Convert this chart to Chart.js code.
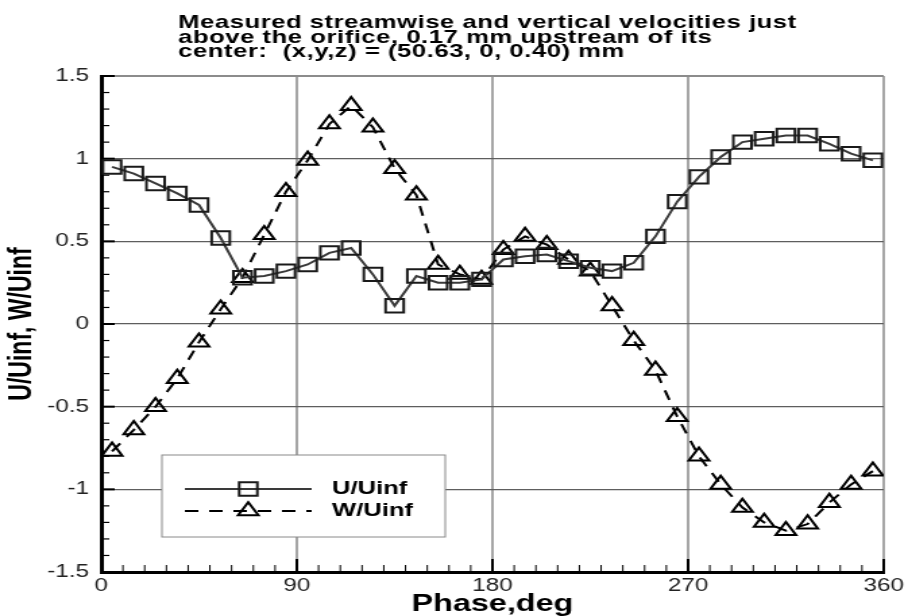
<!DOCTYPE html>
<html>
<head>
<meta charset="utf-8">
<script src="https://cdn.jsdelivr.net/npm/chart.js@4.4.1/dist/chart.umd.min.js"></script>
<style>
  html, body { margin: 0; padding: 0; background: #fff; overflow: hidden; }
  /* the source picture is stretched sideways, so the chart is drawn narrow and widened */
  #wrap { width: 673px; height: 616px; transform: scaleX(1.3492); transform-origin: 0 0; }
</style>
</head>
<body>
<div id="wrap"><canvas id="chart" width="673" height="616"></canvas></div>
<script>
const titleLines = [
  'Measured streamwise and vertical velocities just',
  'above the orifice, 0.17 mm upstream of its',
  'center:  (x,y,z) = (50.63, 0, 0.40) mm'
];

// phase angle of each sample, deg
const phaseDeg = [5, 15, 25, 35, 45, 55, 65, 75, 85, 95, 105, 115, 125, 135, 145, 155, 165, 175,
  185, 195, 205, 215, 225, 235, 245, 255, 265, 275, 285, 295, 305, 315, 325, 335, 345, 355];

const uOverUinf = [0.95, 0.91, 0.85, 0.79, 0.72, 0.52, 0.28, 0.29, 0.32, 0.36, 0.43, 0.46, 0.30, 0.11,
  0.29, 0.25, 0.25, 0.27, 0.39, 0.41, 0.42, 0.38, 0.34, 0.32, 0.37, 0.53, 0.74, 0.89, 1.01, 1.10,
  1.12, 1.14, 1.14, 1.09, 1.03, 0.99];

const wOverUinf = [-0.77, -0.64, -0.50, -0.33, -0.11, 0.09, 0.28, 0.54, 0.80, 0.99, 1.21, 1.32, 1.19, 0.94,
  0.78, 0.36, 0.30, 0.27, 0.45, 0.53, 0.48, 0.39, 0.32, 0.11, -0.10, -0.28, -0.56, -0.80, -0.97, -1.11,
  -1.20, -1.25, -1.21, -1.08, -0.97, -0.89];

const xTickValues = [0, 90, 180, 270, 360];
const xTickLabels = ['0', '90', '180', '270', '360'];
const yTickValues = [-1.5, -1, -0.5, 0, 0.5, 1, 1.5];
const yTickLabels = ['-1.5', '-1', '-0.5', '0', '0.5', '1', '1.5'];

const fam = "'Liberation Sans', Arial, Helvetica, sans-serif";
Chart.defaults.font.family = fam;

function pairs(xs, ys) {
  return xs.map((x, i) => ({ x: x, y: ys[i] }));
}

// hollow marker, same shapes as chart.js rect / triangle
function marker(ctx, style, r, x, y) {
  ctx.beginPath();
  if (style === 'rect') {
    const s = r * Math.SQRT1_2;
    ctx.rect(x - s, y - s, 2 * s, 2 * s);
  } else {
    ctx.moveTo(x, y - r);
    ctx.lineTo(x + r * Math.sin(Math.PI * 2 / 3), y + r / 2);
    ctx.lineTo(x - r * Math.sin(Math.PI * 2 / 3), y + r / 2);
    ctx.closePath();
  }
  ctx.stroke();
}

const background = {
  id: 'background',
  beforeDraw(chart) {
    const ctx = chart.ctx;
    ctx.save();
    ctx.fillStyle = '#fff';
    ctx.fillRect(0, 0, chart.width, chart.height);
    ctx.restore();
  }
};

const plotTitle = {
  id: 'plotTitle',
  afterDraw(chart) {
    const ctx = chart.ctx;
    ctx.save();
    ctx.font = 'bold 19px ' + fam;
    ctx.letterSpacing = '0.4px';
    ctx.fillStyle = '#000';
    ctx.textBaseline = 'alphabetic';
    titleLines.forEach((t, i) => ctx.fillText(t, 132, 28 + i * 14.5));
    ctx.restore();
  }
};

// ticks point into the plot, with minor ticks
const innerTicks = {
  id: 'innerTicks',
  beforeDatasetsDraw(chart) {
    const ctx = chart.ctx;
    const a = chart.chartArea;
    const xs = chart.scales.x, ys = chart.scales.y;
    ctx.save();
    ctx.strokeStyle = '#000';
    for (let v = 0; v <= 360; v += 10) {
      const px = xs.getPixelForValue(v);
      const major = v % 90 === 0;
      ctx.lineWidth = major ? 2 : 1;
      ctx.beginPath();
      ctx.moveTo(px, a.bottom);
      ctx.lineTo(px, a.bottom - (major ? 13 : 7));
      ctx.stroke();
    }
    for (let k = -15; k <= 15; k++) {
      const py = ys.getPixelForValue(k / 10);
      const major = k % 5 === 0;
      ctx.lineWidth = major ? 2 : 1.2;
      ctx.beginPath();
      ctx.moveTo(a.left, py);
      ctx.lineTo(a.left + (major ? 10 : 6), py);
      ctx.stroke();
    }
    ctx.restore();
  }
};

const boxLegend = {
  id: 'boxLegend',
  afterDraw(chart) {
    const ctx = chart.ctx;
    const a = chart.chartArea;
    const bx = a.left + 45, by = a.bottom - 117, bw = 210, bh = 82;
    ctx.save();
    ctx.fillStyle = '#fff';
    ctx.fillRect(bx, by, bw, bh);
    ctx.strokeStyle = '#8a8a8a';
    ctx.lineWidth = 1;
    ctx.strokeRect(bx, by, bw, bh);
    chart.data.datasets.forEach((ds, i) => {
      const y = by + 34 + i * 22;
      ctx.strokeStyle = ds.borderColor;
      ctx.lineWidth = ds.borderWidth;
      ctx.setLineDash(ds.borderDash || []);
      ctx.beginPath();
      ctx.moveTo(bx + 17, y);
      ctx.lineTo(bx + 111, y);
      ctx.stroke();
      ctx.setLineDash([]);
      ctx.strokeStyle = ds.pointBorderColor;
      ctx.lineWidth = ds.pointBorderWidth;
      marker(ctx, ds.pointStyle, ds.pointRadius, bx + 64, y);
      ctx.fillStyle = '#000';
      ctx.font = 'bold 19px ' + fam;
      ctx.textBaseline = 'middle';
      ctx.fillText(ds.label, bx + 126, y);
    });
    ctx.restore();
  }
};

new Chart(document.getElementById('chart'), {
  type: 'line',
  data: {
    datasets: [
      {
        label: 'U/Uinf',
        data: pairs(phaseDeg, uOverUinf),
        borderColor: '#3a3a3a',
        borderWidth: 2,
        pointStyle: 'rect',
        pointRadius: 9.5,
        pointBorderColor: '#1a1a1a',
        pointBorderWidth: 2,
        pointBackgroundColor: 'rgba(0,0,0,0)',
        tension: 0,
        fill: false
      },
      {
        label: 'W/Uinf',
        data: pairs(phaseDeg, wOverUinf),
        borderColor: '#000',
        borderWidth: 2,
        borderDash: [10, 8],
        pointStyle: 'triangle',
        pointRadius: 8.7,
        pointBorderColor: '#000',
        pointBorderWidth: 2,
        pointBackgroundColor: 'rgba(0,0,0,0)',
        tension: 0,
        fill: false
      }
    ]
  },
  options: {
    responsive: false,
    animation: false,
    layout: { padding: { top: 76, right: 17, left: 0, bottom: 0 } },
    plugins: {
      legend: { display: false },
      tooltip: { enabled: false }
    },
    scales: {
      x: {
        type: 'linear',
        min: 0,
        max: 360,
        afterBuildTicks: s => { s.ticks = xTickValues.map(v => ({ value: v })); },
        afterFit: s => { s.height = 44; },
        ticks: {
          autoSkip: false, maxRotation: 0, padding: 3, color: '#222', font: { size: 18 },
          callback: v => xTickLabels[xTickValues.indexOf(v)]
        },
        grid: { drawTicks: false, color: '#a6a6a6', lineWidth: 2 },
        border: { color: '#000', width: 3 },
        title: {
          display: true,
          text: 'Phase,deg',
          color: '#000',
          font: { size: 24, weight: 'bold', lineHeight: 1 },
          padding: { top: 0, bottom: 0 }
        }
      },
      y: {
        min: -1.5,
        max: 1.5,
        afterBuildTicks: s => { s.ticks = yTickValues.map(v => ({ value: v })); },
        afterFit: s => { s.width = 75; },
        ticks: {
          autoSkip: false, padding: 9, color: '#222', font: { size: 18 },
          callback: v => yTickLabels[yTickValues.indexOf(v)]
        },
        grid: {
          drawTicks: false,
          color: c => (c.tick && c.tick.value === 1.5 ? '#8c8c8c' : '#5e5e5e'),
          lineWidth: c => (c.tick && c.tick.value === 1.5 ? 2 : 1.2)
        },
        border: { color: '#000', width: 3 },
        title: {
          display: true,
          text: 'U/Uinf, W/Uinf',
          color: '#000',
          font: { size: 23, weight: 'bold', lineHeight: 1 },
          padding: { top: 5, bottom: 0 }
        }
      }
    }
  },
  plugins: [background, innerTicks, boxLegend, plotTitle]
});
</script>
</body>
</html>
